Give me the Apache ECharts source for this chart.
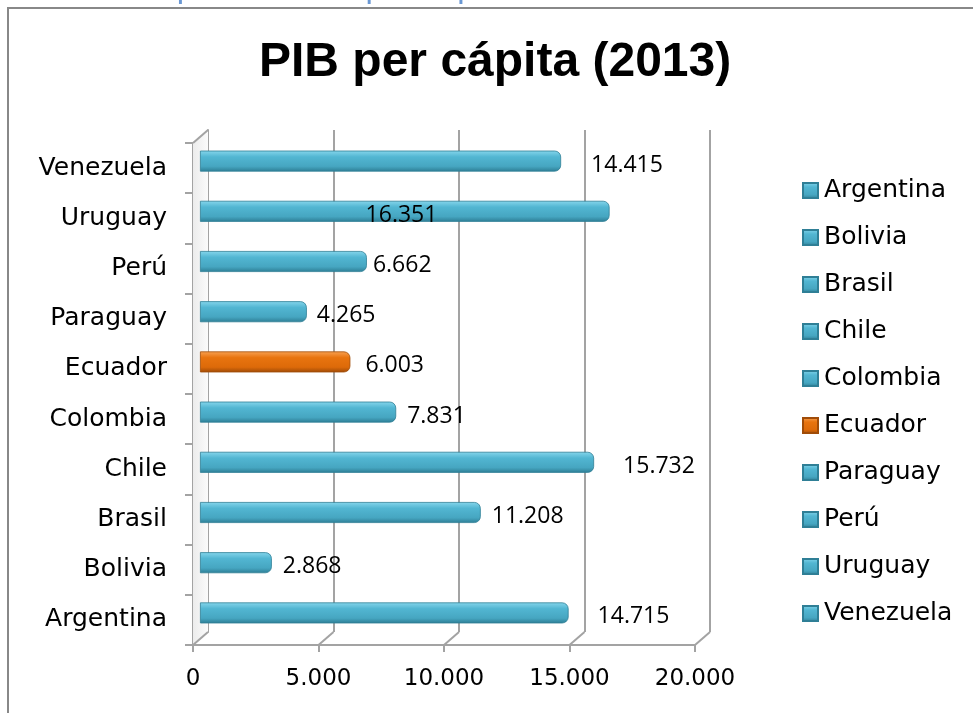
<!DOCTYPE html>
<html>
<head>
<meta charset="utf-8">
<script src="https://cdn.jsdelivr.net/npm/echarts@6/dist/echarts.min.js"></script>
<style>
html,body{margin:0;padding:0;background:#ffffff;}
#c{width:973px;height:713px;}
</style>
</head>
<body>
<div id="c"></div>
<script>
// ---------- data ----------
const categories = ['Argentina', 'Bolivia', 'Brasil', 'Chile', 'Colombia', 'Ecuador', 'Paraguay', 'Perú', 'Uruguay', 'Venezuela'];
const values = [14715, 2868, 11208, 15732, 7831, 6003, 4265, 6662, 16351, 14415];
const xTicks = [0, 5000, 10000, 15000, 20000];
const highlightCategory = 'Ecuador';
const titleText = 'PIB per cápita (2013)';
const headerText = 'Comparativo PIB per cápita';

// ---------- style config ----------
const labelNudge = { 'Argentina': 24, 'Bolivia': 6, 'Brasil': 6, 'Chile': 24, 'Colombia': 6, 'Ecuador': 10, 'Paraguay': 5, 'Perú': 1, 'Uruguay': -249, 'Venezuela': 25 };
const DX = 15, DY = 13;
const gridColor = '#a3a3a3';
const catFont = 'DejaVu Sans';
const numFont = 'Open Sans';

function fmt(v) { return String(v).replace(/\B(?=(\d{3})+(?!\d))/g, '.'); }

const G = echarts.graphic;
const tealFill = new G.LinearGradient(0, 0, 0, 1, [
  { offset: 0, color: '#86d6ec' }, { offset: 0.3, color: '#52b6d2' },
  { offset: 0.75, color: '#46a6c1' }, { offset: 1, color: '#2d7d94' }]);
const orangeFill = new G.LinearGradient(0, 0, 0, 1, [
  { offset: 0, color: '#f8a254' }, { offset: 0.3, color: '#e8740f' },
  { offset: 0.75, color: '#dd6a09' }, { offset: 1, color: '#9e4a06' }]);

const chart = echarts.init(document.getElementById('c'), null, { renderer: 'canvas' });

const barSeries = categories.map(function (name, i) {
  const isHi = name === highlightCategory;
  return {
    name: name,
    type: 'bar',
    xAxisIndex: 2,
    yAxisIndex: 2,
    stack: 'pib',
    barWidth: 21,
    z: 5,
    itemStyle: {
      color: isHi ? orangeFill : tealFill,
      borderColor: isHi ? '#a04c08' : '#2f7f96',
      borderWidth: 0.8,
      borderRadius: [0, 6, 6, 0]
    },
    label: {
      show: true,
      position: 'right',
      distance: 5,
      offset: [labelNudge[name] || 0, 4],
      fontFamily: numFont,
      fontSize: 23,
      color: '#000000',
      formatter: function (p) { return fmt(p.value); }
    },
    data: categories.map(function (c, j) { return j === i ? values[i] : '-'; })
  };
});

const frameSeries = {
  type: 'custom',
  xAxisIndex: 0,
  yAxisIndex: 0,
  silent: true,
  z: 1,
  clip: false,
  encode: { x: 0, y: 1 },
  data: xTicks.map(function (v) { return [v, 0]; }),
  renderItem: function (params, api) {
    const cs = params.coordSys;
    const v = api.value(0);
    const p = api.coord([v, 0]);
    const by = cs.y + cs.height;
    const children = [{
      type: 'line',
      shape: { x1: p[0], y1: by, x2: p[0] + DX, y2: by - DY },
      style: { stroke: gridColor, lineWidth: 2 }
    }];
    if (params.dataIndex === 0) {
      children.push({
        type: 'polygon',
        z2: -1,
        shape: { points: [[p[0], cs.y], [p[0] + DX, cs.y - DY], [p[0] + DX, by - DY], [p[0], by]] },
        style: { fill: new G.LinearGradient(0, 0, 1, 0, [{ offset: 0, color: '#ececec' }, { offset: 1, color: '#fbfbfb' }]) }
      });
      children.push({
        type: 'line',
        shape: { x1: p[0], y1: cs.y, x2: p[0] + DX, y2: cs.y - DY },
        style: { stroke: gridColor, lineWidth: 2 }
      });
    }
    return { type: 'group', children: children };
  }
};

const option = {
  animation: false,
  backgroundColor: '#ffffff',
  title: {
    text: titleText,
    left: 259,
    top: 39,
    padding: 0,
    textStyle: { fontFamily: 'Liberation Sans', fontWeight: 'bold', fontSize: 48, color: '#000000' }
  },
  graphic: [
    {
      type: 'text', silent: true, z: 99,
      x: 107, y: -12,
      style: { text: headerText, fontFamily: 'Liberation Sans', fontSize: 33, fill: '#6a98d4', verticalAlign: 'middle', align: 'left' }
    },
    {
      type: 'rect', silent: true, z: 100,
      shape: { x: 7, y: 7, width: 970, height: 2 },
      style: { fill: '#888888' }
    },
    {
      type: 'rect', silent: true, z: 100,
      shape: { x: 7, y: 7, width: 2, height: 710 },
      style: { fill: '#888888' }
    }
  ],
  legend: {
    orient: 'vertical',
    left: 802,
    top: 178,
    padding: 0,
    itemWidth: 15,
    itemHeight: 15,
    itemGap: 22,
    icon: 'rect',
    selectedMode: false,
    data: categories,
    textStyle: { fontFamily: catFont, fontSize: 25, color: '#000000', padding: [0, 0, 0, 1] }
  },
  grid: [
    { left: 193, top: 143, width: 502, height: 502 },
    { left: 208, top: 130, width: 502, height: 502 },
    { left: 200, top: 136, width: 501, height: 502 }
  ],
  xAxis: [
    {
      gridIndex: 0, type: 'value', min: 0, max: 20000, interval: 5000,
      axisLine: { show: true, lineStyle: { color: gridColor, width: 2 } },
      axisTick: { show: true, length: 7, lineStyle: { color: gridColor, width: 2 } },
      splitLine: { show: false },
      axisLabel: { margin: 23, fontFamily: catFont, fontSize: 23, color: '#000000', formatter: fmt }
    },
    {
      gridIndex: 1, type: 'value', min: 0, max: 20000, interval: 5000,
      axisLine: { show: false }, axisTick: { show: false }, axisLabel: { show: false },
      splitLine: { show: true, lineStyle: { color: gridColor, width: 2 } }
    },
    { gridIndex: 2, type: 'value', min: 0, max: 20000, show: false }
  ],
  yAxis: [
    {
      gridIndex: 0, type: 'category', data: categories,
      axisLine: { show: true, lineStyle: { color: gridColor, width: 2 } },
      axisTick: { show: true, length: 8, lineStyle: { color: gridColor, width: 2 } },
      axisLabel: { margin: 26, fontFamily: catFont, fontSize: 25, color: '#000000' }
    },
    {
      gridIndex: 1, type: 'category', data: categories,
      axisLine: { show: true, lineStyle: { color: gridColor, width: 2 } },
      axisTick: { show: false }, axisLabel: { show: false }, splitLine: { show: false }
    },
    { gridIndex: 2, type: 'category', data: categories, show: false }
  ],
  series: [frameSeries].concat(barSeries)
};

chart.setOption(option);
</script>
</body>
</html>
